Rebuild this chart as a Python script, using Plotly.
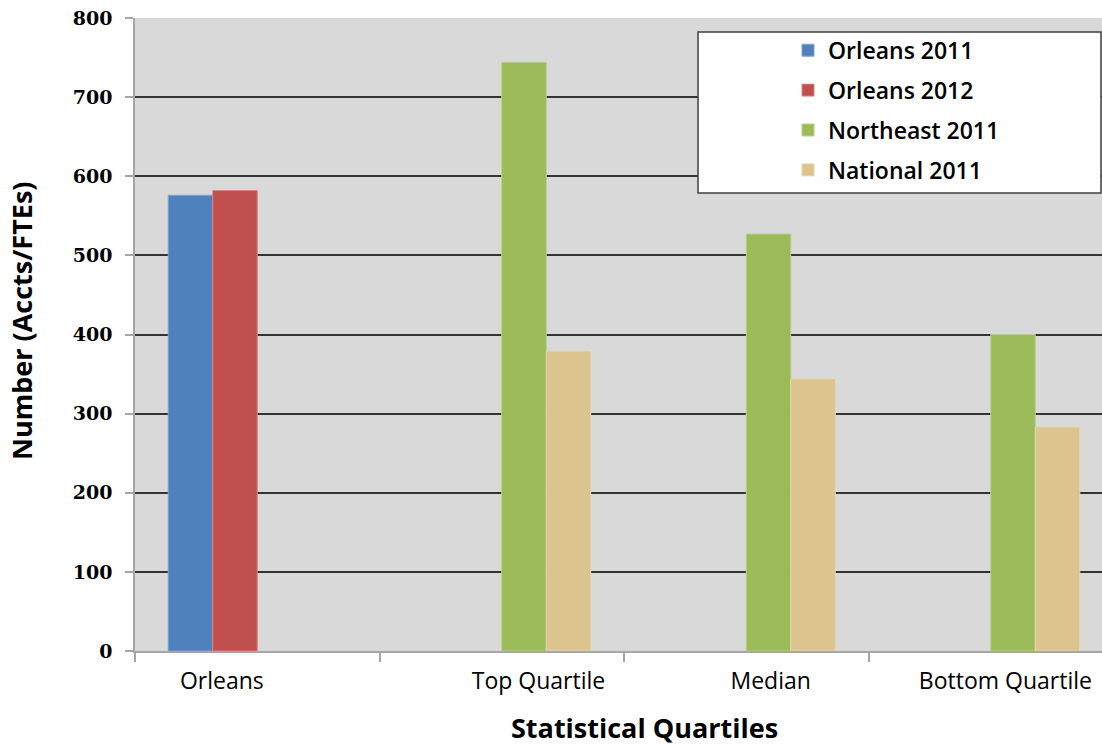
import plotly.graph_objects as go

# Chart data
categories = ["Orleans", "Top Quartile", "Median", "Bottom Quartile"]
series_names = ["Orleans 2011", "Orleans 2012", "Northeast 2011", "National 2011"]
orleans_2011 = [576, None, None, None]
orleans_2012 = [582, None, None, None]
northeast_2011 = [None, 744, 527, 400]
national_2011 = [None, 379, 344, 283]
y_ticks = [0, 100, 200, 300, 400, 500, 600, 700, 800]

colors = ["#4F81BD", "#C0504D", "#9BBB59", "#DBC48E"]
edge_colors = ["#7FA3D6", "#D98583", "#B7D08A", "#E6D6AE"]

# numeric category positions (group centres) and label offsets
x_centres = [i + 0.5 for i in range(len(categories))]
label_shift = [-0.145, 0.15, 0.10, 0.06]
label_pos = [c + s for c, s in zip(x_centres, label_shift)]

fig = go.Figure()
for name, vals, col, edge in zip(series_names,
                                 [orleans_2011, orleans_2012, northeast_2011, national_2011],
                                 colors, edge_colors):
    fig.add_trace(go.Bar(
        x=x_centres, y=vals, name=name, legendgroup=name,
        marker=dict(color=col, line=dict(color=edge, width=1)),
    ))

SANS = "Open Sans"
label_font = dict(family=SANS, size=23, color="#000000")

fig.update_layout(
    width=1102, height=745,
    margin=dict(l=135, r=0, t=18, b=94),
    paper_bgcolor="#FFFFFF",
    plot_bgcolor="#D9D9D9",
    barmode="group",
    bargap=0.272,
    bargroupgap=0,
    showlegend=True,
    legend=dict(
        x=(788 - 135) / 967, y=0.983, xanchor="left", yanchor="top",
        bgcolor="rgba(0,0,0,0)", borderwidth=0,
        font=dict(family=SANS, size=23, color="#000000", weight=600),
        tracegroupgap=7,
        itemwidth=30,
    ),
    xaxis=dict(
        range=[0, 3.955],
        tickvals=label_pos, ticktext=categories,
        ticks="", tickfont=label_font,
        showgrid=False, zeroline=False,
        showline=True, linecolor="#A6A6A6", linewidth=1.5,
        minor=dict(tickvals=[0, 1, 2, 3], ticks="outside", ticklen=9,
                   tickcolor="#A6A6A6", tickwidth=1.5, showgrid=False),
        ticklabelstandoff=9,
    ),
    yaxis=dict(
        range=[0, 800], tickvals=y_ticks,
        ticks="outside", ticklen=8, tickcolor="#A6A6A6", tickwidth=1.5,
        tickfont=dict(family="DejaVu Serif", size=19, color="#000000", weight="bold"),
        ticklabelstandoff=9,
        showgrid=True, gridcolor="#333333", gridwidth=1.6,
        zeroline=False,
        showline=True, linecolor="#A6A6A6", linewidth=1.5,
    ),
    shapes=[dict(
        type="rect", xref="paper", yref="paper",
        x0=(698 - 135) / 967, x1=(1101 - 135) / 967,
        y0=(651 - 193) / 633, y1=(651 - 32) / 633,
        line=dict(color="#404040", width=1.5), fillcolor="#FFFFFF", layer="above",
    )],
    annotations=[
        dict(text="<b>Statistical Quartiles</b>", xref="paper", yref="paper",
             x=(644 - 135) / 967, y=-(727 - 651) / 633, xanchor="center", yanchor="middle",
             showarrow=False, font=dict(family=SANS, size=27, color="#000000")),
        dict(text="<b>Number (Accts/FTEs)</b>", xref="paper", yref="paper",
             x=-(135 - 22) / 967, y=(651 - 321) / 633, xanchor="center", yanchor="middle",
             textangle=-90, showarrow=False,
             font=dict(family=SANS, size=27, color="#000000")),
    ],
)

fig.write_html("out.html")
